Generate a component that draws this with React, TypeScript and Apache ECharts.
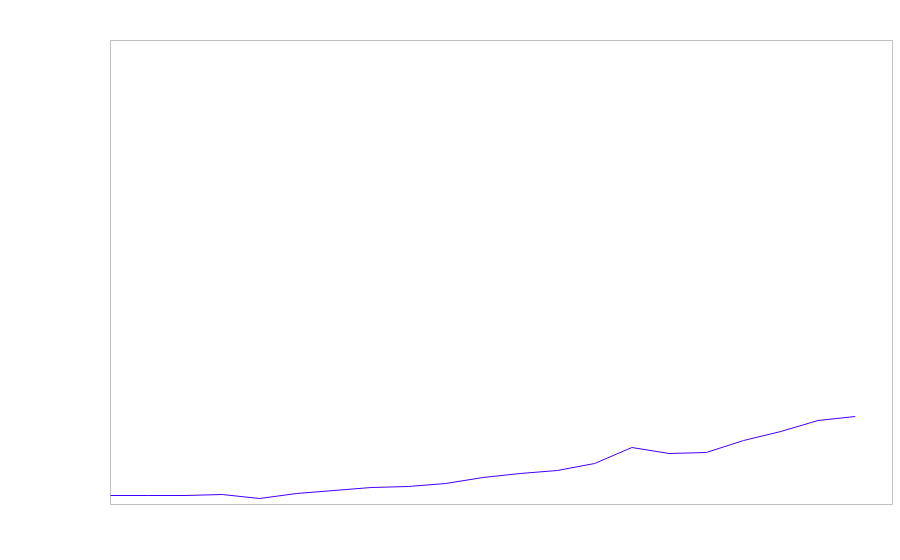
import React, { useEffect, useRef } from "react";
import * as echarts from "echarts";

const xIndex: number[] = [0, 1, 2, 3, 4, 5, 6, 7, 8, 9, 10, 11, 12, 13, 14, 15, 16, 17, 18, 19, 20];
const values: number[] = [9, 9, 9, 10, 6, 11, 14, 17, 18, 21, 27, 31, 34, 41, 57, 51, 52, 64, 73, 84, 88];
const xMax = 21;
const yMax = 464;

export default function App() {
  const ref = useRef<HTMLDivElement>(null);
  useEffect(() => {
    if (!ref.current) return;
    const chart = echarts.init(ref.current, undefined, { renderer: "svg" });
    chart.setOption({
      animation: false,
      backgroundColor: "#ffffff",
      grid: {
        left: 110.5,
        top: 40.5,
        width: 782,
        height: 464,
        show: true,
        borderColor: "#c0c0c0",
        borderWidth: 1,
        backgroundColor: "transparent",
      },
      xAxis: {
        type: "value",
        min: 0,
        max: xMax,
        show: false,
        splitLine: { show: false },
      },
      yAxis: {
        type: "value",
        min: 0,
        max: yMax,
        show: false,
        splitLine: { show: false },
      },
      series: [
        {
          type: "line",
          data: xIndex.map((x, i) => [x, values[i]]),
          showSymbol: false,
          symbol: "none",
          lineStyle: { color: "#4400ff", width: 1 },
        },
      ],
    });
    return () => chart.dispose();
  }, []);
  return (
    <div
      ref={ref}
      style={{ position: "fixed", left: 0, top: 0, width: 900, height: 560 }}
    />
  );
}
